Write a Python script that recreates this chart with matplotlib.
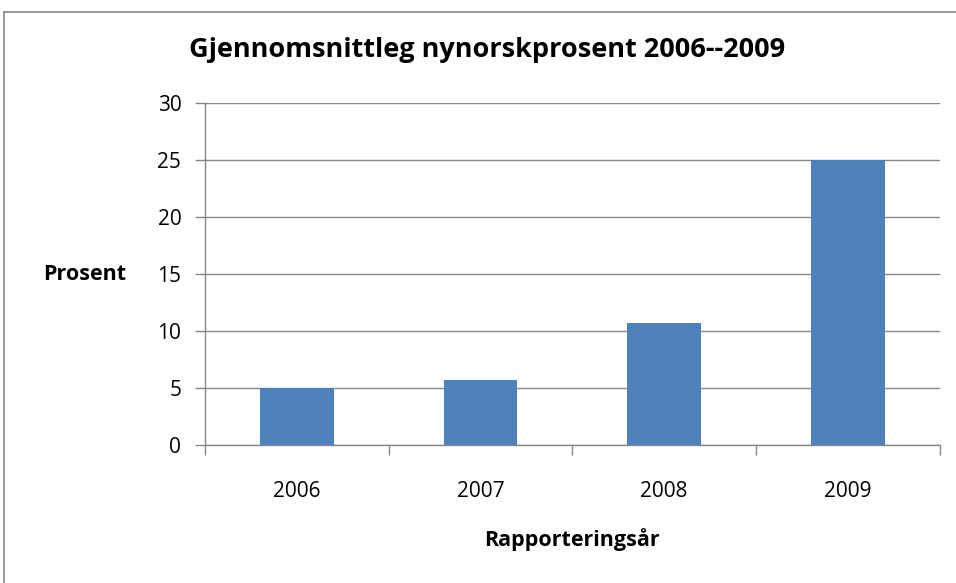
import matplotlib.pyplot as plt
from matplotlib.lines import Line2D

years = ['2006', '2007', '2008', '2009']
prosent = [5.0, 5.7, 10.7, 25.0]
yticks = [0, 5, 10, 15, 20, 25, 30]

plt.rcParams['font.family'] = ['Open Sans', 'DejaVu Sans']

fig = plt.figure(figsize=(9.56, 5.83), dpi=100)
ax = fig.add_axes([0.2144, 0.2367, 0.7686, 0.5866])

xs = range(len(years))
ax.bar(xs, prosent, width=0.4, color='#4f81bd', zorder=3)

ax.set_xlim(-0.5, len(years) - 0.5)
ax.set_ylim(0, 30)
ax.set_yticks(yticks)
ax.set_xticks(list(xs))
ax.set_xticklabels(years)
ax.set_xticks([i - 0.5 for i in range(len(years) + 1)], minor=True)
ax.tick_params(axis='x', which='major', length=0, pad=26, labelsize=15)
ax.tick_params(axis='x', which='minor', length=7, width=1, color='#868686', direction='out')
ax.tick_params(axis='y', length=7, width=1, color='#868686', direction='out', pad=10, labelsize=15)

ax.grid(axis='y', color='#868686', linewidth=1, zorder=0)
for s in ['top', 'right']:
    ax.spines[s].set_visible(False)
for s in ['left', 'bottom']:
    ax.spines[s].set_color('#868686')
    ax.spines[s].set_linewidth(1)

fig.text(487 / 956, 1 - 50 / 583, 'Gjennomsnittleg nynorskprosent 2006--2009',
         ha='center', va='center', fontsize=19.5, fontweight='bold')
fig.text(85 / 956, 1 - 275 / 583, 'Prosent', ha='center', va='center',
         fontsize=15.5, fontweight='bold')
fig.text(572 / 956, 1 - 540 / 583, 'Rapporteringsår', ha='center', va='center',
         fontsize=15.5, fontweight='bold')

# chart frame (clipped at right and bottom)
x0, y0 = 4 / 956, 1 - 12 / 583
fig.add_artist(Line2D([x0, 1], [y0, y0], transform=fig.transFigure, color='#8c8c8c', linewidth=1.2))
fig.add_artist(Line2D([x0, x0], [0, y0], transform=fig.transFigure, color='#8c8c8c', linewidth=1.2))

fig.savefig('out.png', dpi=100)
